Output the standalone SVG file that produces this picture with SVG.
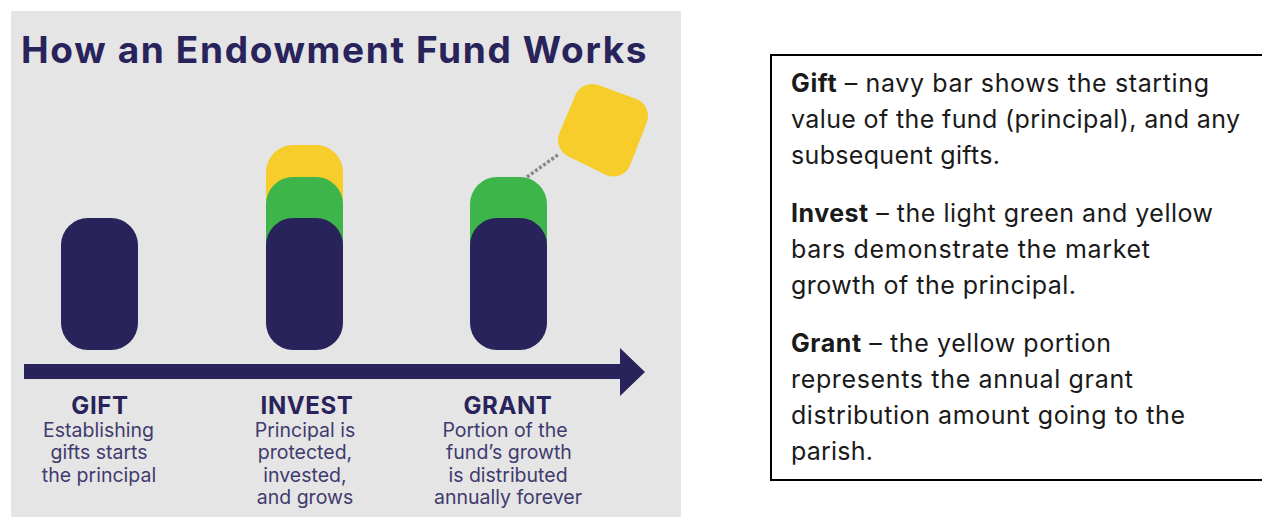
<svg xmlns="http://www.w3.org/2000/svg" width="1262" height="517" viewBox="0 0 1262 517">
<style>
.navy{fill:#29235c}.green{fill:#3db54a}.yellow{fill:#f6cd2b}
.t{font-family:"Inter","Liberation Sans",sans-serif;fill:#29235c}
.title{font-size:37px;font-weight:700;letter-spacing:1.65px}
.h{font-size:24px;font-weight:700;text-anchor:middle;letter-spacing:.6px}
.s{font-size:19.5px;font-weight:400;text-anchor:middle;fill:#3f3b6e}
.b{font-family:"Inter","Liberation Sans",sans-serif;font-size:25px;fill:#1a1a1a}
.b tspan{font-weight:700}
</style>
<rect width="1262" height="517" fill="#fff"/>
<rect x="11" y="11" width="670" height="506" fill="#e5e5e5"/>
<text class="t title" x="21" y="63">How an Endowment Fund Works</text>
<g id="connectors">
<path id="timeline" class="navy" d="M24 364H620V348L645 372L620 396V379H24Z"/>
<path id="payout" d="M527 177L559 154" fill="none" stroke="#888" stroke-width="3.5" stroke-dasharray="3 2"/>
</g>
<g id="gift">
<rect class="navy" x="61" y="218" width="77" height="132" rx="27"/>
<text class="t h" x="100" y="414">GIFT</text>
<text class="t s" x="98.500" y="437">Establishing</text>
<text class="t s" x="99" y="459">gifts starts</text>
<text class="t s" x="99" y="481.500">the principal</text>
</g>
<g id="invest">
<rect class="yellow" x="266" y="145" width="77" height="120" rx="27"/>
<rect class="green" x="266" y="177" width="77" height="120" rx="27"/>
<rect class="navy" x="266" y="218" width="77" height="132" rx="27"/>
<text class="t h" x="307" y="414">INVEST</text>
<text class="t s" x="305" y="437">Principal is</text>
<text class="t s" x="305" y="459">protected,</text>
<text class="t s" x="305" y="481.500">invested,</text>
<text class="t s" x="305" y="504">and grows</text>
</g>
<g id="grant">
<rect class="green" x="470" y="177" width="77" height="120" rx="27"/>
<rect class="navy" x="470" y="218" width="77" height="132" rx="27"/>
<text class="t h" x="508" y="414">GRANT</text>
<text class="t s" x="505" y="437">Portion of the</text>
<text class="t s" x="509" y="459">fund’s growth</text>
<text class="t s" x="508" y="481.500">is distributed</text>
<text class="t s" x="508" y="504">annually forever</text>
</g>
<g id="grant-payout">
<path class="yellow" stroke="#f6cd2b" stroke-width="36" stroke-linejoin="round" d="M592 102L630 116L613.500 158.500L576 140Z"/>
</g>
<g id="legend">
<path d="M1262 55H771V480H1262" fill="#fff" stroke="#000" stroke-width="2"/>
<text class="b" x="791" y="92" textLength="418"><tspan>Gift</tspan> – navy bar shows the starting</text>
<text class="b" x="791" y="128" textLength="449">value of the fund (principal), and any</text>
<text class="b" x="791" y="164" textLength="209">subsequent gifts.</text>
<text class="b" x="791" y="222" textLength="422"><tspan>Invest</tspan> – the light green and yellow</text>
<text class="b" x="791" y="258" textLength="359">bars demonstrate the market</text>
<text class="b" x="791" y="294" textLength="285">growth of the principal.</text>
<text class="b" x="791" y="352" textLength="320"><tspan>Grant</tspan> – the yellow portion</text>
<text class="b" x="791" y="388" textLength="342">represents the annual grant</text>
<text class="b" x="791" y="424" textLength="394">distribution amount going to the</text>
<text class="b" x="791" y="460" textLength="82">parish.</text>
</g>
</svg>
